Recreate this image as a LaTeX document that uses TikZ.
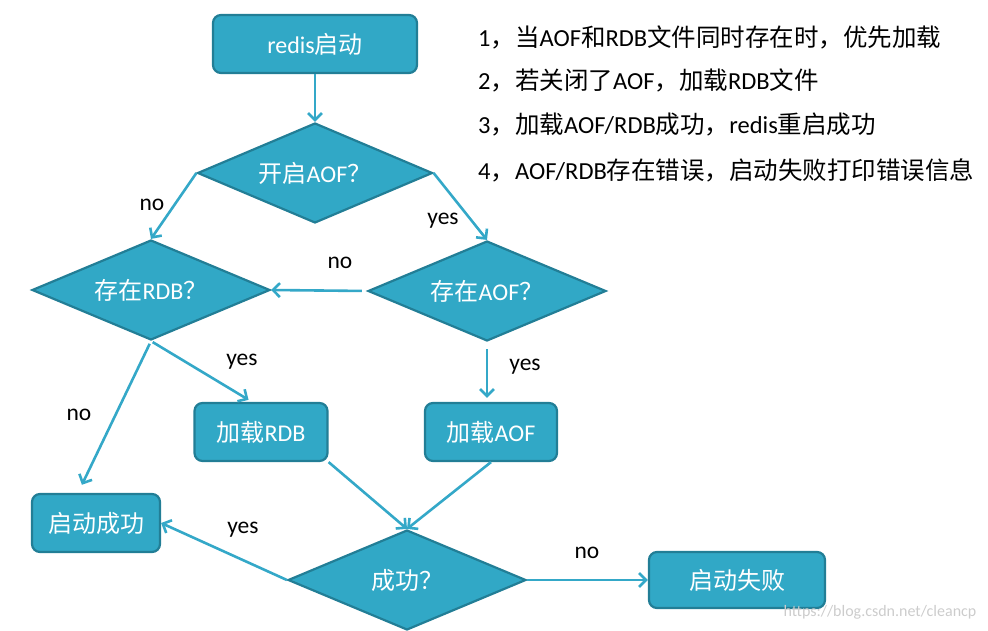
\documentclass[tikz,border=0pt]{standalone}
\usepackage{fontspec}
\setmainfont{Carlito}
\newfontfamily\zhfont{Noto Sans CJK SC}
\newcommand{\zh}[1]{{\zhfont #1}}
\usetikzlibrary{shapes.geometric, arrows.meta}
\definecolor{boxfill}{RGB}{49,168,198}
\definecolor{boxline}{RGB}{34,126,150}
\definecolor{flow}{RGB}{52,168,200}
\tikzstyle{box} = [rectangle, 
rounded corners=8pt, 
minimum height=58pt, 
line width=2.2pt, 
text centered, 
draw=boxline, 
fill=boxfill, 
text=white, 
font=\fontsize{24}{28}\selectfont]
\tikzstyle{decision} = [diamond, 
aspect=2.4, 
minimum width=238pt, 
minimum height=100pt, 
inner sep=0pt, 
line width=2.2pt, 
draw=boxline, 
fill=boxfill, 
text=white, 
font=\fontsize{24}{28}\selectfont]
\tikzstyle{arrow} = [line width=2.6pt,draw=flow,-{Straight Barb[length=7pt,width=14pt]}]
\tikzstyle{lbl} = [font=\fontsize{23.5}{27}\selectfont]
\tikzstyle{note} = [anchor=west, inner sep=0pt, font=\fontsize{24.5}{28}\selectfont]

\begin{document}
\begin{tikzpicture}[x=1pt,y=-1pt]
\useasboundingbox (0,0) rectangle (988,631);

% Nodes
\node (start) [box, minimum width=204pt] at (315,44) {redis\zh{启动}};
\node (aofon) [decision, minimum width=235pt] at (315,173) {\zh{开启}AOF\zh{？}};
\node (rdbexist) [decision] at (151,290) {\zh{存在}RDB\zh{？}};
\node (aofexist) [decision] at (487,291) {\zh{存在}AOF\zh{？}};
\node (loadrdb) [box, minimum width=133pt] at (261,432) {\zh{加载}RDB};
\node (loadaof) [box, minimum width=132pt] at (491,432) {\zh{加载}AOF};
\node (success) [box, minimum width=128pt] at (96,523) {\zh{启动成功}};
\node (ok) [decision] at (407,580) {\zh{成功？}};
\node (fail) [box, minimum width=176pt, minimum height=56pt] at (737,580) {\zh{启动失败}};

% Notes
\node (note1) [note] at (478,37) {1\zh{，当}AOF\zh{和}RDB\zh{文件同时存在时，优先加载}};
\node (note2) [note] at (478,80) {2\zh{，若关闭了}AOF\zh{，加载}RDB\zh{文件}};
\node (note3) [note] at (478,125) {3\zh{，加载}AOF/RDB\zh{成功，}redis\zh{重启成功}};
\node (note4) [note] at (478,170) {4\zh{，}AOF/RDB\zh{存在错误，启动失败打印错误信息}};

% Labels
\node (lno1) [lbl] at (152,205) {no};
\node (lyes1) [lbl] at (443,221) {yes};
\node (lno2) [lbl] at (340,263) {no};
\node (lyes2) [lbl] at (525,367) {yes};
\node (lyes3) [lbl] at (242,362) {yes};
\node (lno3) [lbl] at (79,415) {no};
\node (lyes4) [lbl] at (243,530) {yes};
\node (lno4) [lbl] at (587,553) {no};
\node (mark) [font=\fontsize{16}{18}\selectfont, text=gray!40] at (880,612) {https://blog.csdn.net/cleancp};

% Arrows
\draw [arrow] (start) -- (aofon);
\draw [arrow] (aofon.west) -- (rdbexist.north);
\draw [arrow] (aofon.east) -- (aofexist.north);
\draw [arrow, shorten <=5pt] (aofexist.west) -- (rdbexist.east);
\draw [arrow, shorten <=7pt, shorten >=4pt] (aofexist.south) -- (aofexist.south |- loadaof.north);
\draw [arrow, shorten <=2pt, shorten >=4pt] (rdbexist.south) -- ([xshift=-9pt]loadrdb.north);
\draw [arrow, shorten <=3pt, shorten >=9pt] (rdbexist.south) -- ([xshift=-18pt]success.north);
\draw [arrow] (loadrdb.south east) -- (ok.north);
\draw [arrow] (loadaof.south) -- (ok.north);
\draw [arrow] (ok.west) -- (success.east);
\draw [arrow] (ok.east) -- (fail.west);

\end{tikzpicture}
\end{document}
